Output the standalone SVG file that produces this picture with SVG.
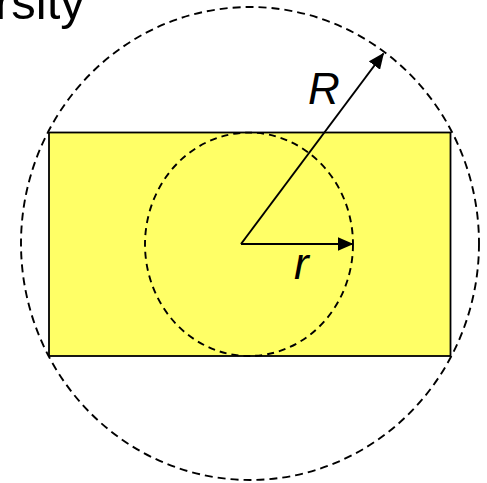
<svg xmlns="http://www.w3.org/2000/svg" width="487" height="483" viewBox="0 0 487 483">
<style>
.dash{fill:none;stroke:#000;stroke-width:1.9}
.big{stroke-dasharray:8 5}
.small{stroke-dasharray:7 5}
.arrow{stroke:#000;stroke-width:2;fill:none}
.lbl{font-family:"Liberation Sans",Arial,sans-serif;fill:#000}
.it{font-style:italic;font-size:44px}
</style>
<defs>
<marker id="ah" markerUnits="userSpaceOnUse" markerWidth="16" markerHeight="14" refX="15" refY="7" orient="auto">
<path d="M0,0 L16,7 L0,14 z" fill="#000"/>
</marker>
</defs>
<rect width="487" height="483" fill="#fff"/>
<g id="title">
<text class="lbl" x="-5" y="19" font-size="49">rsity</text>
</g>
<g id="rectangle">
<rect x="49" y="132.5" width="401.5" height="223.5" fill="#FFFF66" stroke="#000" stroke-width="1.8"/>
</g>
<g id="inner-circle">
<ellipse class="dash small" cx="249" cy="244.3" rx="104" ry="111.7"/>
</g>
<g id="outer-circle">
<ellipse class="dash big" cx="250" cy="243.5" rx="229" ry="236.5"/>
</g>
<g id="connectors">
<line class="arrow" x1="241" y1="244" x2="383.4" y2="53.5" marker-end="url(#ah)"/>
<line class="arrow" x1="241" y1="244" x2="352.5" y2="244" marker-end="url(#ah)"/>
</g>
<g id="label-R">
<text class="lbl it" x="308" y="104">R</text>
</g>
<g id="label-r">
<text class="lbl it" x="294" y="279">r</text>
</g>
</svg>
